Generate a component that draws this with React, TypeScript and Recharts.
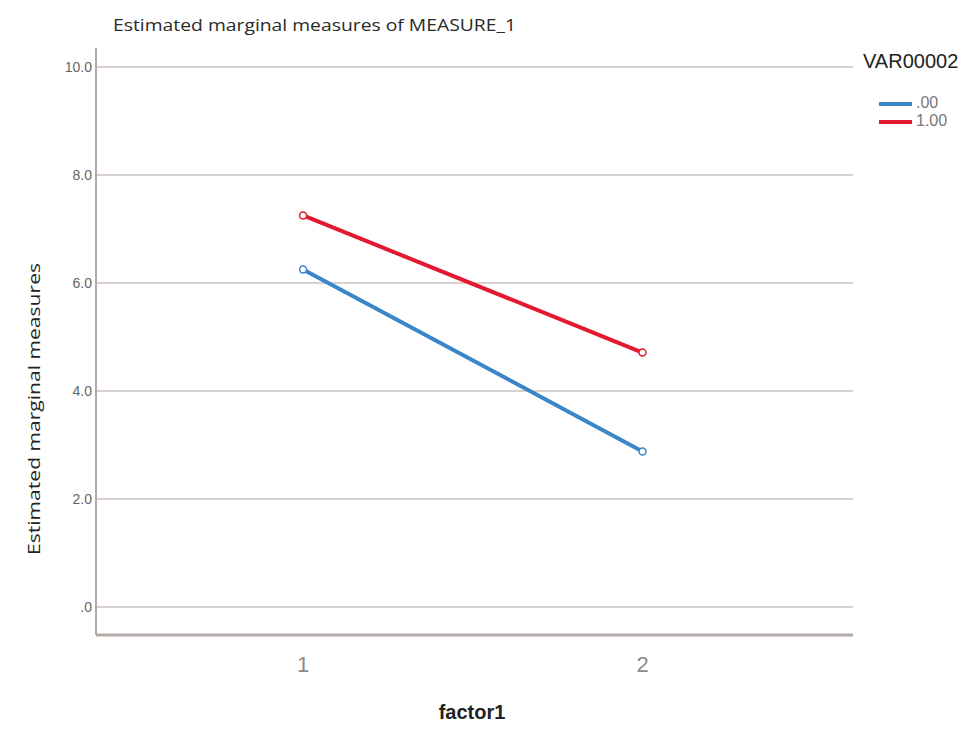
import React from 'react';
import { LineChart, Line, XAxis, YAxis, ReferenceLine } from 'recharts';

const chartTitle = 'Estimated marginal measures of MEASURE_1';
const yAxisTitle = 'Estimated marginal measures';
const xAxisTitle = 'factor1';
const legendTitle = 'VAR00002';

const factorLevels = [1, 2];
const seriesNames = ['.00', '1.00'];
const seriesKeys = ['s0', 's1'];
const seriesColors = ['#3a86c8', '#e2192f'];
const valuesZero = [6.25, 2.88];
const valuesOne = [7.25, 4.71];
const yTicks = [0, 2, 4, 6, 8, 10];

const data = factorLevels.map((lvl, i) => ({
  x: lvl,
  s0: valuesZero[i],
  s1: valuesOne[i],
}));

const fmtY = (v: number) => (v === 0 ? '.0' : v.toFixed(1));

export default function App() {
  return (
    <div style={{ position: 'absolute', left: 0, top: 0, width: 973, height: 740, background: '#fff' }}>
      <LineChart
        width={973}
        height={740}
        data={data}
        margin={{ top: 48, right: 120, bottom: 44, left: 36 }}
      >
        {yTicks.map((t) => (
          <ReferenceLine key={t} y={t} stroke="#cbc2be" strokeWidth={1.5} />
        ))}
        <XAxis
          dataKey="x"
          type="number"
          domain={[0.39, 2.62]}
          ticks={factorLevels}
          allowDataOverflow
          height={61}
          tickLine={false}
          tickSize={0}
          tickMargin={21}
          axisLine={{ stroke: '#b5aaa7', strokeWidth: 3 }}
          tick={{ fontSize: 22, fill: '#8a8a8a', fontFamily: 'Liberation Sans, Arial' }}
          label={() => (
            <text
              x={472}
              y={719}
              textAnchor="middle"
              fontFamily="Liberation Sans, Arial"
              fontWeight="bold"
              fontSize={20}
              fill="#222"
            >
              {xAxisTitle}
            </text>
          )}
        />
        <YAxis
          type="number"
          domain={[-0.52, 10.35]}
          ticks={yTicks}
          allowDataOverflow
          width={60}
          tickFormatter={fmtY}
          tickLine={false}
          tickSize={0}
          tickMargin={4}
          axisLine={{ stroke: '#b5aaa7', strokeWidth: 2 }}
          tick={{ fontSize: 14, fill: '#666', fontFamily: 'Liberation Sans, Arial' }}
          label={() => (
            <text
              x={33}
              y={409}
              transform="rotate(-90 33 409)"
              textAnchor="middle"
              dominantBaseline="central"
              fontFamily="Open Sans"
              fontSize={17}
              fill="#222"
              textLength={292}
              lengthAdjust="spacingAndGlyphs"
            >
              {yAxisTitle}
            </text>
          )}
        />
        {seriesKeys.map((k, i) => (
          <Line
            key={k}
            dataKey={k}
            name={seriesNames[i]}
            stroke={seriesColors[i]}
            strokeWidth={4}
            dot={{ r: 3.5, fill: '#fff', stroke: seriesColors[i], strokeWidth: 1.5 }}
            isAnimationActive={false}
          />
        ))}
      </LineChart>
      <svg
        width={973}
        height={140}
        style={{ position: 'absolute', left: 0, top: 0, pointerEvents: 'none' }}
      >
        <text
          x={113}
          y={31}
          fontFamily="Open Sans"
          fontSize={17}
          fill="#2a2a2a"
          textLength={403}
          lengthAdjust="spacingAndGlyphs"
        >
          {chartTitle}
        </text>
        <text x={863} y={68} fontFamily="Liberation Sans, Arial" fontSize={20} fill="#222">
          {legendTitle}
        </text>
        {seriesNames.map((name, i) => {
          const ly = 104 + i * 18;
          return (
            <g key={name}>
              <line x1={879} x2={912} y1={ly} y2={ly} stroke={seriesColors[i]} strokeWidth={4} />
              <text x={916} y={ly + 4} fontFamily="Liberation Sans, Arial" fontSize={16} fill="#777">
                {name}
              </text>
            </g>
          );
        })}
      </svg>
    </div>
  );
}
